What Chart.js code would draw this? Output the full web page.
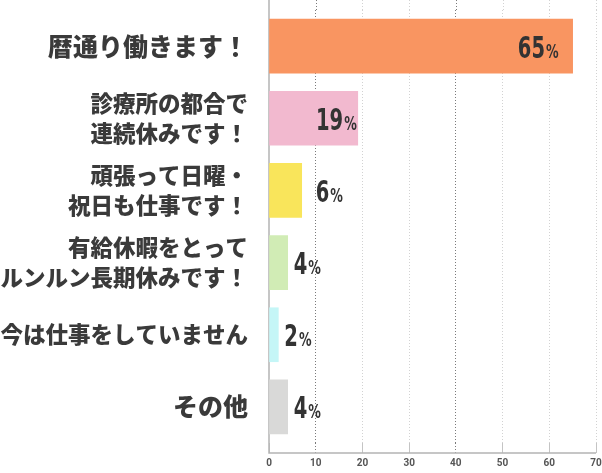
<!DOCTYPE html>
<html>
<head>
<meta charset="utf-8">
<script src="https://cdn.jsdelivr.net/npm/chart.js@4/dist/chart.umd.min.js"></script>
<style>
  html, body { margin: 0; padding: 0; background: #fff; }
  #wrap { width: 602px; height: 473px; position: relative; }
</style>
</head>
<body>
<div id="wrap"><canvas id="chart"></canvas></div>
<script>
// data
var categories = [
  ['暦通り働きます！'],
  ['診療所の都合で', '連続休みです！'],
  ['頑張って日曜・', '祝日も仕事です！'],
  ['有給休暇をとって', 'ルンルン長期休みです！'],
  ['今は仕事をしていません'],
  ['その他']
];
// bar lengths as drawn, and the printed percentages
var values = [65, 19, 7, 4, 2, 4];
var percentLabels = ['65', '19', '6', '4', '2', '4'];
var barColors = ['#F99561', '#F2B9CF', '#F9E55B', '#D1ECB5', '#C5F6F7', '#D9D9D8'];
var xTicks = [0, 10, 20, 30, 40, 50, 60, 70];
var darkTicks = [10, 40];

// label gap from bar end (px), inside bars are right aligned
var labelGap = [14, 1, 14, 6, 6, 6];

function isDark(v) { return darkTicks.indexOf(v) !== -1; }

var axisLines = {
  id: 'axisLines',
  beforeDatasetsDraw: function (chart) {
    var ctx = chart.ctx, area = chart.chartArea, x = chart.scales.x;
    var bottom = area.bottom + 10;
    ctx.save();
    // extend grid lines to the top edge
    ctx.setLineDash([1, 2]);
    ctx.lineWidth = 1;
    xTicks.forEach(function (v) {
      if (v === 0) return;
      var px = Math.round(x.getPixelForValue(v)) + 0.5;
      ctx.strokeStyle = isDark(v) ? '#7a7a7a' : '#d2d2d2';
      ctx.beginPath();
      ctx.moveTo(px, 0);
      ctx.lineTo(px, area.top);
      ctx.stroke();
    });
    ctx.setLineDash([]);
    ctx.strokeStyle = '#b4b4b4';
    ctx.lineWidth = 1.5;
    ctx.beginPath();
    ctx.moveTo(area.left, 0);
    ctx.lineTo(area.left, bottom);
    ctx.lineTo(area.right, bottom);
    ctx.stroke();
    ctx.restore();
  }
};

var valueLabels = {
  id: 'valueLabels',
  afterDatasetsDraw: function (chart) {
    var ctx = chart.ctx;
    var meta = chart.getDatasetMeta(0);
    var sx = 0.7;
    ctx.save();
    ctx.fillStyle = '#333';
    ctx.textBaseline = 'alphabetic';
    meta.data.forEach(function (bar, i) {
      var num = percentLabels[i];
      var numFont = 'bold 31px "DejaVu Sans Condensed", "DejaVu Sans", sans-serif';
      var pctFont = 'bold 20px "DejaVu Sans Condensed", "DejaVu Sans", sans-serif';
      ctx.font = numFont;
      var wNum = ctx.measureText(num).width * sx;
      ctx.font = pctFont;
      var wPct = ctx.measureText('%').width * sx;
      var total = wNum + 1 + wPct;
      var left = values[i] >= 10 ? bar.x - labelGap[i] - total : bar.x + labelGap[i];
      var base = bar.y + 11.5;
      ctx.save();
      ctx.translate(left, base);
      ctx.scale(sx, 1);
      ctx.font = numFont;
      ctx.fillText(num, 0, 0);
      ctx.font = pctFont;
      ctx.fillText('%', (wNum + 1) / sx, 0);
      ctx.restore();
    });
    ctx.restore();
  }
};

new Chart(document.getElementById('chart'), {
  type: 'bar',
  data: {
    labels: categories,
    datasets: [{
      data: values,
      backgroundColor: barColors,
      borderWidth: 0,
      barThickness: 54
    }]
  },
  options: {
    indexAxis: 'y',
    responsive: true,
    maintainAspectRatio: false,
    animation: false,
    layout: { padding: { top: 10, right: 0, left: 0, bottom: 0 } },
    plugins: {
      legend: { display: false },
      tooltip: { enabled: false }
    },
    scales: {
      x: {
        min: 0,
        max: 70,
        afterFit: function (scale) {
          scale.height = 30;
          scale.paddingRight = 6;
          scale.paddingLeft = 0;
        },
        afterBuildTicks: function (scale) {
          scale.ticks = xTicks.map(function (v) { return { value: v }; });
        },
        border: { display: false, dash: [1, 2] },
        grid: {
          color: function (c) {
            var v = c.tick ? c.tick.value : 0;
            if (v === 0) return 'rgba(0,0,0,0)';
            return isDark(v) ? '#7a7a7a' : '#d2d2d2';
          },
          tickColor: function (c) {
            var v = c.tick ? c.tick.value : 0;
            return isDark(v) ? '#7a7a7a' : '#c4c4c4';
          },
          tickBorderDash: function (c) {
            var v = c.tick ? c.tick.value : 0;
            return isDark(v) ? [1, 2] : [];
          },
          tickLength: 10,
          lineWidth: 1
        },
        ticks: {
          padding: 4,
          color: '#555',
          font: { family: 'Roboto, "DejaVu Sans", sans-serif', size: 10, weight: 'bold' }
        }
      },
      y: {
        afterFit: function (scale) {
          scale.width = 269;
          scale.paddingTop = 0;
          scale.paddingBottom = 0;
        },
        border: { display: false },
        grid: { display: false, drawTicks: false },
        ticks: {
          padding: 21,
          color: '#3a3a3a',
          font: function (c) {
            var big = c.index === 0 || c.index === categories.length - 1;
            return {
              family: '"Noto Sans CJK JP", "Noto Sans", sans-serif',
              size: big ? 25 : 22.5,
              weight: 900,
              lineHeight: big ? 1.2 : 1.33
            };
          }
        }
      }
    }
  },
  plugins: [axisLines, valueLabels]
});
</script>
</body>
</html>
